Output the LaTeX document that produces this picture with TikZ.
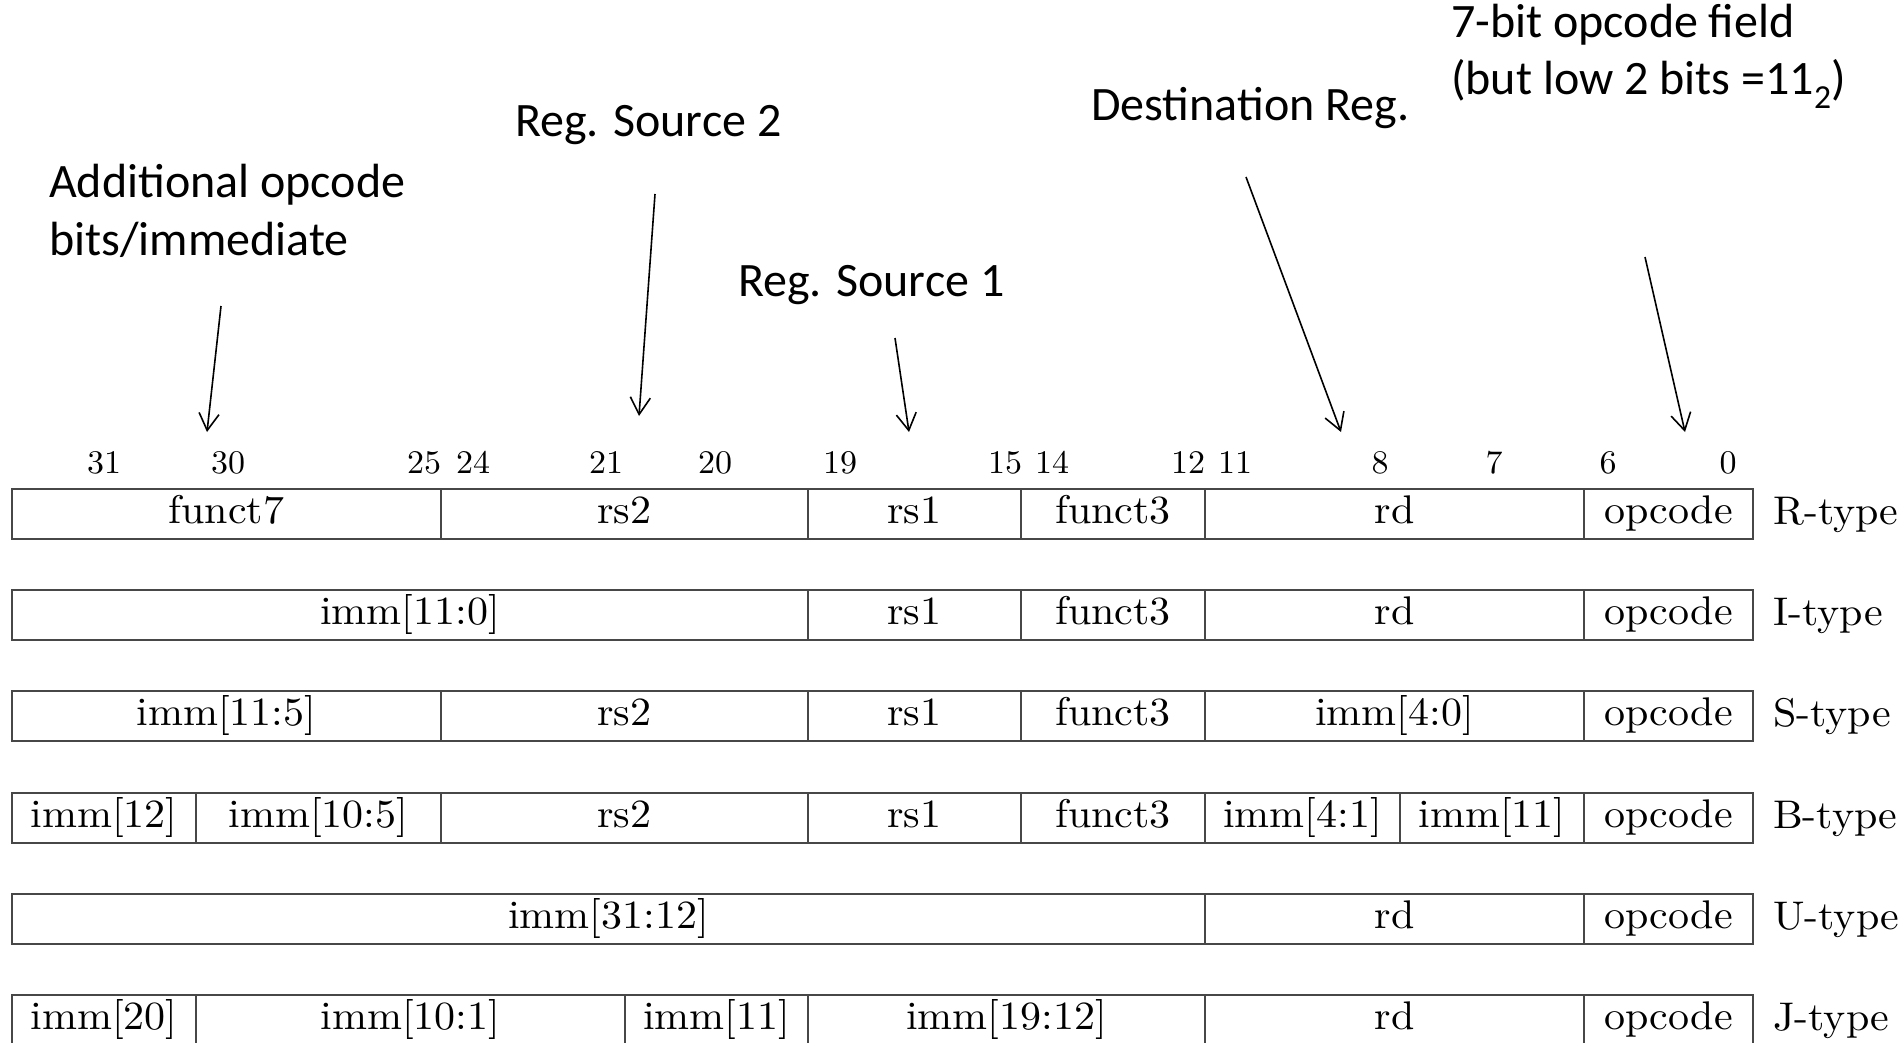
\documentclass[tikz,border=0pt]{standalone}
\usepackage{fontspec}
\newfontfamily\notefont{Carlito}
\usetikzlibrary{arrows.meta}

% table text: Latin Modern 10pt, enlarged
\newcommand\fieldtxt[1]{\scalebox{4.2}[4.0]{\fontsize{10}{12}\selectfont #1}}
\newcommand\bittxt[1]{\scalebox{3.4}[3.3]{\fontsize{10}{12}\selectfont #1}}
% one field of an instruction format: name, left, right, row top, text
\newcommand\fieldcell[5]{%
  \node[cell, minimum width={(#3-#2)*1pt}] (#1) at ({(#2+#3)/2},{#4+25}) {\fieldtxt{#5}};}

\begin{document}
\begin{tikzpicture}[x=1pt, y=-1pt,
  cell/.style={draw=black!72, line width=2pt, minimum height=50pt, inner sep=0pt,
               text height=29pt, text depth=10pt},
  bitnum/.style={anchor=base, inner sep=0pt},
  kind/.style={anchor=base west, inner sep=0pt},
  note/.style={anchor=base west, inner sep=0pt, font=\notefont\fontsize{48}{57}\selectfont},
  pointer/.style={line width=1.6pt, -{Straight Barb[length=17pt, width=20pt, line width=1.6pt]}}
]
\useasboundingbox (0,0) rectangle (1901,1043);

% bit positions
\foreach \n/\x in {31/104, 30/228, 25/424, 24/473, 21/606, 20/715, 19/840, 15/1005,
                   14/1052, 12/1188, 11/1235, 8/1380, 7/1494, 6/1608, 0/1728}
  \node[bitnum] (bit\n) at (\x,473) {\bittxt{\n}};

% R-type
\fieldcell{rF7}{12}{441}{489}{funct7}
\fieldcell{rRs2}{441}{808}{489}{rs2}
\fieldcell{rRs1}{808}{1021}{489}{rs1}
\fieldcell{rF3}{1021}{1205}{489}{funct3}
\fieldcell{rRd}{1205}{1584}{489}{rd}
\fieldcell{rOp}{1584}{1753}{489}{opcode}
\node[kind] (rType) at (1773,524) {\fieldtxt{R-type}};

% I-type
\fieldcell{iImm}{12}{808}{590}{imm[11:0]}
\fieldcell{iRs1}{808}{1021}{590}{rs1}
\fieldcell{iF3}{1021}{1205}{590}{funct3}
\fieldcell{iRd}{1205}{1584}{590}{rd}
\fieldcell{iOp}{1584}{1753}{590}{opcode}
\node[kind] (iType) at (1773,625) {\fieldtxt{I-type}};

% S-type
\fieldcell{sImmHi}{12}{441}{691}{imm[11:5]}
\fieldcell{sRs2}{441}{808}{691}{rs2}
\fieldcell{sRs1}{808}{1021}{691}{rs1}
\fieldcell{sF3}{1021}{1205}{691}{funct3}
\fieldcell{sImmLo}{1205}{1584}{691}{imm[4:0]}
\fieldcell{sOp}{1584}{1753}{691}{opcode}
\node[kind] (sType) at (1773,726) {\fieldtxt{S-type}};

% B-type
\fieldcell{bImmA}{12}{196}{793}{imm[12]}
\fieldcell{bImmB}{196}{441}{793}{imm[10:5]}
\fieldcell{bRs2}{441}{808}{793}{rs2}
\fieldcell{bRs1}{808}{1021}{793}{rs1}
\fieldcell{bF3}{1021}{1205}{793}{funct3}
\fieldcell{bImmC}{1205}{1400}{793}{imm[4:1]}
\fieldcell{bImmD}{1400}{1584}{793}{imm[11]}
\fieldcell{bOp}{1584}{1753}{793}{opcode}
\node[kind] (bType) at (1773,828) {\fieldtxt{B-type}};

% U-type
\fieldcell{uImm}{12}{1205}{894}{imm[31:12]}
\fieldcell{uRd}{1205}{1584}{894}{rd}
\fieldcell{uOp}{1584}{1753}{894}{opcode}
\node[kind] (uType) at (1773,929) {\fieldtxt{U-type}};

% J-type
\fieldcell{jImmA}{12}{196}{995}{imm[20]}
\fieldcell{jImmB}{196}{625}{995}{imm[10:1]}
\fieldcell{jImmC}{625}{808}{995}{imm[11]}
\fieldcell{jImmD}{808}{1205}{995}{imm[19:12]}
\fieldcell{jRd}{1205}{1584}{995}{rd}
\fieldcell{jOp}{1584}{1753}{995}{opcode}
\node[kind] (jType) at (1773,1030) {\fieldtxt{J-type}};

% annotations
\node[note] (addA) at (49,198) {Additional opcode};
\node[note] (addB) at (49,255) {bits/immediate};
\node[note] (src2) at (515,137) {Reg. Source 2};
\node[note] (src1) at (738,296) {Reg. Source 1};
\node[note] (dest) at (1091,121) {Destination Reg.};
\node[note] (opA) at (1451,38) {7-bit opcode field};
\node[note] (opB) at (1451,95) {(but low 2 bits =11\textsubscript{2})};

% pointer ends
\coordinate (p1s) at (221,306);  \coordinate (p1e) at (207,432);
\coordinate (p2s) at (655,194);  \coordinate (p2e) at (639,416);
\coordinate (p3s) at (895,338);  \coordinate (p3e) at (909,432);
\coordinate (p4s) at (1246,177); \coordinate (p4e) at (1341,432);
\coordinate (p5s) at (1645,257); \coordinate (p5e) at (1685,432);

\draw[pointer] (p1s) -- (p1e);
\draw[pointer] (p2s) -- (p2e);
\draw[pointer] (p3s) -- (p3e);
\draw[pointer] (p4s) -- (p4e);
\draw[pointer] (p5s) -- (p5e);
\end{tikzpicture}
\end{document}
